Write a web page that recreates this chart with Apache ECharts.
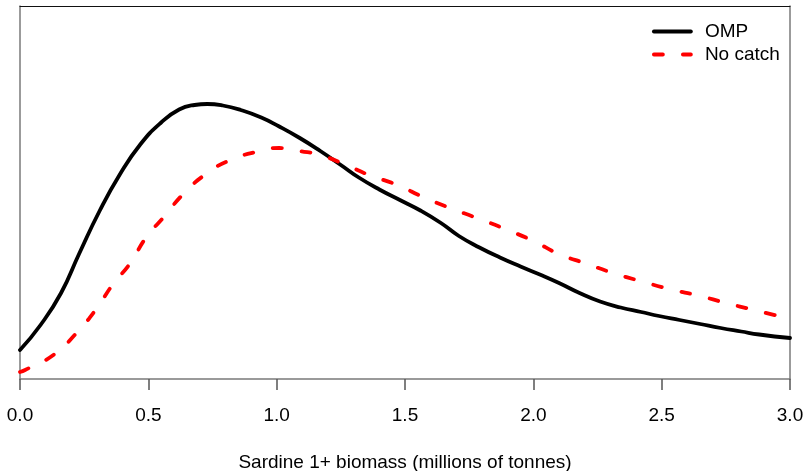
<!DOCTYPE html>
<html>
<head>
<meta charset="utf-8">
<script src="https://cdn.jsdelivr.net/npm/echarts@6/dist/echarts.min.js"></script>
<style>
  html, body { margin: 0; padding: 0; background: #fff; }
  #chart { width: 807px; height: 471px; }
</style>
</head>
<body>
<div id="chart"></div>
<script>
// Density of sardine 1+ biomass (millions of tonnes) under two scenarios
const ompX = [0, 0.08, 0.16, 0.23, 0.31, 0.39, 0.47, 0.55, 0.62, 0.68, 0.73, 0.79, 0.86, 0.94, 1.01, 1.09, 1.17, 1.25, 1.32, 1.40, 1.48, 1.56, 1.64, 1.71, 1.79, 1.87, 1.95, 2.03, 2.10, 2.18, 2.26, 2.34, 2.42, 2.49, 2.57, 2.65, 2.73, 2.81, 2.88, 3.0];
const ompY = [0.058, 0.108, 0.172, 0.250, 0.336, 0.410, 0.470, 0.513, 0.539, 0.548, 0.550, 0.547, 0.538, 0.523, 0.505, 0.482, 0.456, 0.428, 0.403, 0.379, 0.358, 0.337, 0.312, 0.286, 0.263, 0.243, 0.225, 0.208, 0.192, 0.172, 0.155, 0.143, 0.134, 0.126, 0.118, 0.110, 0.102, 0.095, 0.089, 0.082];

const noCatchX = [0, 0.02, 0.13, 0.22, 0.30, 0.36, 0.43, 0.49, 0.56, 0.64, 0.73, 0.82, 0.935, 1.01, 1.09, 1.17, 1.27, 1.36, 1.47, 1.57, 1.675, 1.78, 1.90, 2.00, 2.10, 2.21, 2.31, 2.416, 2.53, 2.65, 2.75, 2.86, 3.0];
const noCatchY = [0.014, 0.018, 0.048, 0.092, 0.142, 0.188, 0.232, 0.282, 0.324, 0.372, 0.412, 0.438, 0.456, 0.462, 0.456, 0.448, 0.428, 0.408, 0.388, 0.364, 0.342, 0.322, 0.298, 0.276, 0.250, 0.230, 0.212, 0.196, 0.180, 0.166, 0.152, 0.138, 0.120];

const seriesNames = ['OMP', 'No catch'];
const xTicks = [0, 0.5, 1.0, 1.5, 2.0, 2.5, 3.0];
const xTitle = 'Sardine 1+ biomass (millions of tonnes)';

const zip = (xs, ys) => xs.map((x, i) => [x, ys[i]]);
const FONT = 'Liberation Sans, Arial, Helvetica, sans-serif';
const frameGrey = '#7a7a7a';
const LINE_W = 3.8;

const chart = echarts.init(document.getElementById('chart'), null, { renderer: 'canvas' });
chart.setOption({
  animation: false,
  backgroundColor: '#ffffff',
  grid: { left: 20, right: 17, top: 6, bottom: 92, containLabel: false, outerBoundsMode: 'none' },
  legend: {
    orient: 'vertical',
    left: 652,
    top: 20,
    padding: 0,
    itemWidth: 37,
    itemHeight: 14,
    itemGap: 0,
    data: seriesNames,
    itemStyle: { opacity: 0 },
    lineStyle: { width: LINE_W },
    textStyle: { fontFamily: FONT, fontSize: 19, color: '#000', lineHeight: 23, padding: [0, 0, 0, 9] }
  },
  xAxis: [
    {
      type: 'value',
      min: 0,
      max: 3,
      interval: 0.5,
      position: 'bottom',
      name: xTitle,
      nameLocation: 'middle',
      nameGap: 74,
      nameTextStyle: { fontFamily: FONT, fontSize: 19, color: '#000' },
      axisLine: { show: true, onZero: false, lineStyle: { color: frameGrey, width: 1.5 } },
      axisTick: { show: true, length: 11, lineStyle: { color: '#555', width: 1.5 } },
      axisLabel: {
        margin: 27,
        fontFamily: FONT,
        fontSize: 19,
        color: '#000',
        formatter: v => xTicks.includes(v) ? v.toFixed(1) : ''
      },
      splitLine: { show: false }
    },
    {
      type: 'value',
      min: 0,
      max: 3,
      position: 'top',
      axisLine: { show: true, onZero: false, lineStyle: { color: '#111', width: 1 } },
      axisTick: { show: false },
      axisLabel: { show: false },
      splitLine: { show: false }
    }
  ],
  yAxis: [
    {
      type: 'value',
      min: 0,
      max: 0.746,
      position: 'left',
      axisLine: { show: true, onZero: false, lineStyle: { color: frameGrey, width: 1.5 } },
      axisTick: { show: false },
      axisLabel: { show: false },
      splitLine: { show: false }
    },
    {
      type: 'value',
      min: 0,
      max: 0.746,
      position: 'right',
      axisLine: { show: true, onZero: false, lineStyle: { color: frameGrey, width: 1.5 } },
      axisTick: { show: false },
      axisLabel: { show: false },
      splitLine: { show: false }
    }
  ],
  series: [
    {
      name: seriesNames[0],
      type: 'line',
      data: zip(ompX, ompY),
      smooth: 0.5,
      symbol: 'none',
      color: '#000',
      lineStyle: { color: '#000', width: LINE_W, cap: 'round', join: 'round' }
    },
    {
      name: seriesNames[1],
      type: 'line',
      data: zip(noCatchX, noCatchY),
      smooth: 0.5,
      symbol: 'none',
      color: '#ff0000',
      lineStyle: { color: '#ff0000', width: LINE_W, type: [9, 20], cap: 'round', join: 'round' }
    }
  ]
});
</script>
</body>
</html>
